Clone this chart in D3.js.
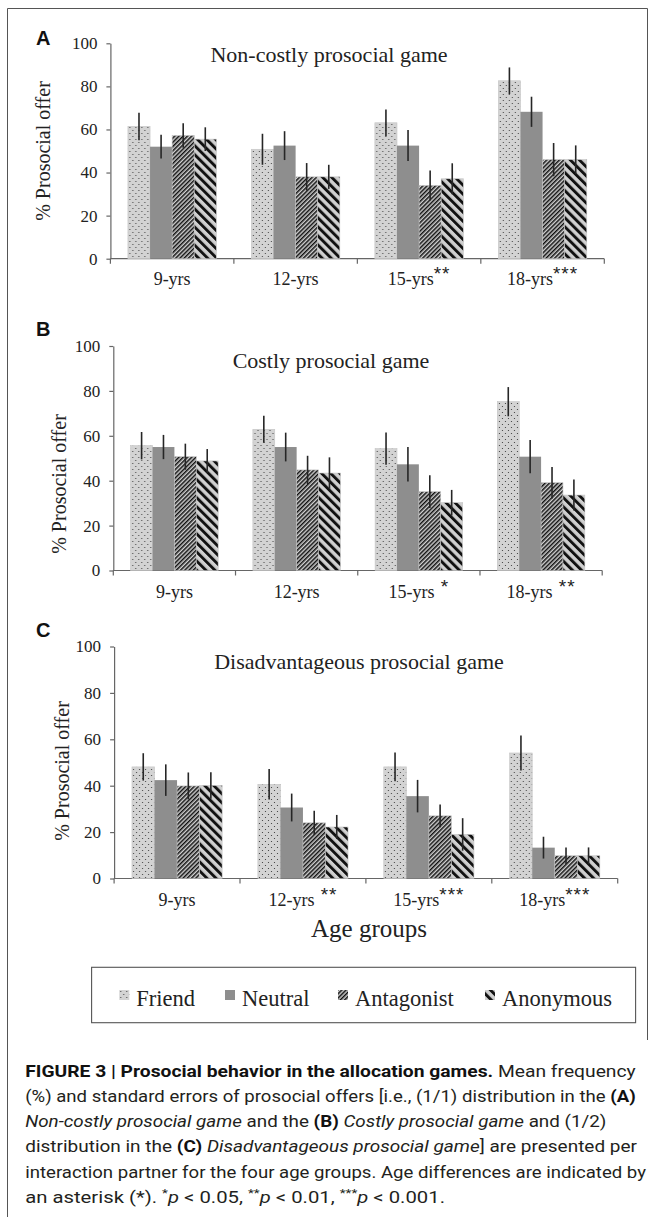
<!DOCTYPE html>
<html>
<head>
<meta charset="utf-8">
<script src="https://cdn.jsdelivr.net/npm/d3@7"></script>
<style>
  body { margin: 0; background: #fff; }
  svg { display: block; }
</style>
</head>
<body>
<script>
// data
const ages = ["9-yrs", "12-yrs", "15-yrs", "18-yrs"];
const partners = ["Friend", "Neutral", "Antagonist", "Anonymous"];
const yTicks = [0, 20, 40, 60, 80, 100];

// rows = age group, columns = partner
const nonCostlyMean = [[61.4, 52.0, 57.2, 55.5], [50.8, 52.5, 38.0, 38.0], [63.1, 52.5, 34.0, 37.1], [82.6, 68.2, 46.0, 46.0]];
const nonCostlySE   = [[6.4, 5.5, 5.7, 5.5], [7.2, 6.7, 6.4, 5.6], [6.2, 7.2, 7.0, 7.2], [6.2, 7.0, 7.7, 6.6]];
const costlyMean    = [[55.6, 55.0, 50.7, 48.8], [62.9, 55.0, 44.8, 43.4], [54.3, 47.3, 35.1, 30.2], [75.2, 50.7, 39.1, 33.6]];
const costlySE      = [[6.1, 5.4, 5.8, 5.3], [6.0, 6.4, 6.3, 7.0], [7.2, 7.7, 7.3, 5.7], [6.5, 7.4, 7.0, 6.9]];
const disadvMean    = [[48.1, 42.4, 39.9, 40.1], [40.6, 30.6, 24.0, 22.2], [48.1, 35.5, 27.0, 19.0], [54.1, 13.3, 9.8, 9.8]];
const disadvSE      = [[5.9, 6.8, 5.8, 5.7], [6.6, 6.0, 5.2, 5.2], [6.2, 7.0, 4.9, 7.0], [7.5, 4.7, 3.6, 3.6]];
const nonCostlyStars = ["", "", "**", "***"];
const costlyStars    = ["", "", " *", " **"];
const disadvStars    = ["", " **", "***", "***"];

const W = 657, H = 1217;
const SERIF = "'Liberation Serif', 'Times New Roman', serif";
const SANS = "'Liberation Sans', Arial, sans-serif";
const svg = d3.select("body").append("svg").attr("width", W).attr("height", H);

// fill patterns
const defs = svg.append("defs");
let pd = defs.append("pattern").attr("id", "dots").attr("patternUnits", "userSpaceOnUse")
  .attr("width", 6).attr("height", 6);
pd.append("rect").attr("width", 6).attr("height", 6).attr("fill", "#d3d3d3");
pd.append("circle").attr("cx", 1.5).attr("cy", 1.5).attr("r", 0.6).attr("fill", "#333");
pd.append("circle").attr("cx", 4.5).attr("cy", 4.5).attr("r", 0.6).attr("fill", "#333");

function stripes(id, period, lw, angle) {
  let p = defs.append("pattern").attr("id", id).attr("patternUnits", "userSpaceOnUse")
    .attr("width", period).attr("height", period).attr("patternTransform", "rotate(" + angle + ")");
  p.append("rect").attr("width", period).attr("height", period).attr("fill", "#d0d0d0");
  p.append("rect").attr("width", lw).attr("height", period).attr("fill", "#111");
}
stripes("thin", 3.0, 1.5, 45);
stripes("thick", 6.4, 2.9, -45);

const fills = ["url(#dots)", "#8e8e8e", "url(#thin)", "url(#thick)"];

// outer frame
svg.append("path").attr("d", "M7.5," + H + "V8.5H647.5V1040")
  .attr("fill", "none").attr("stroke", "#555").attr("stroke-width", 1);

const panels = [
  { letter: "A", title: "Non-costly prosocial game", mean: nonCostlyMean, se: nonCostlySE, stars: nonCostlyStars,
    x0: 110.4, x1: 604.3, yTop: 43.3, yBot: 258.7, tx: 329, ty: 61.7, lx: 50, ly: 151, cy: 285, py: 45 },
  { letter: "B", title: "Costly prosocial game", mean: costlyMean, se: costlySE, stars: costlyStars,
    x0: 113.3, x1: 602.2, yTop: 346, yBot: 570.5, tx: 331, ty: 368.3, lx: 66, ly: 484, cy: 598, py: 336 },
  { letter: "C", title: "Disadvantageous prosocial game", mean: disadvMean, se: disadvSE, stars: disadvStars,
    x0: 114.1, x1: 617.7, yTop: 646.5, yBot: 878.5, tx: 359, ty: 669.3, lx: 69, ly: 771, cy: 906, py: 637 }
];

panels.forEach(function(P) {
  const g = svg.append("g");
  const x = d3.scaleBand().domain(ages).range([P.x0, P.x1]);
  const bw = x.bandwidth();
  const xs = d3.scaleBand().domain(partners).range([bw * 0.142, bw * 0.858]);
  const y = d3.scaleLinear().domain([0, 100]).range([P.yBot, P.yTop]);

  // y axis
  const ya = g.append("g").attr("transform", "translate(" + P.x0 + ",0)")
    .call(d3.axisLeft(y).tickValues(yTicks).tickSize(4).tickSizeOuter(0).tickPadding(9));
  ya.selectAll("path, line").attr("stroke", "#666").attr("stroke-width", 1.2);
  ya.selectAll("text").attr("font-family", SERIF).attr("font-size", 17).attr("fill", "#222");

  // x axis line + boundary ticks
  g.append("line").attr("x1", P.x0).attr("x2", P.x1).attr("y1", y(0)).attr("y2", y(0))
    .attr("stroke", "#666").attr("stroke-width", 1.2);
  const bounds = ages.map(function(a) { return x(a); }).concat([x(ages[3]) + bw]);
  g.selectAll(".bt").data(bounds).enter().append("line")
    .attr("x1", function(d) { return d; }).attr("x2", function(d) { return d; })
    .attr("y1", y(0)).attr("y2", y(0) + 5).attr("stroke", "#666").attr("stroke-width", 1.2);

  // bars
  const grp = g.selectAll(".grp").data(ages).enter().append("g")
    .attr("transform", function(a) { return "translate(" + x(a) + ",0)"; });
  grp.each(function(a, i) {
    const rows = partners.map(function(p, j) { return { p: p, j: j, v: P.mean[i][j], e: P.se[i][j] }; });
    const s = d3.select(this);
    s.selectAll("rect").data(rows).enter().append("rect")
      .attr("x", function(d) { return xs(d.p); })
      .attr("width", xs.bandwidth())
      .attr("y", function(d) { return y(d.v); })
      .attr("height", function(d) { return y(0) - y(d.v); })
      .attr("fill", function(d) { return fills[d.j]; })
      .attr("stroke", function(d) { return d.j == 1 ? "none" : "#c4c4c4"; })
      .attr("stroke-width", 0.6);
    s.selectAll("line").data(rows).enter().append("line")
      .attr("x1", function(d) { return xs(d.p) + xs.bandwidth() / 2; })
      .attr("x2", function(d) { return xs(d.p) + xs.bandwidth() / 2; })
      .attr("y1", function(d) { return y(d.v + d.e); })
      .attr("y2", function(d) { return y(d.v - d.e); })
      .attr("stroke", "#262626").attr("stroke-width", 1.6);
  });

  // category labels with significance stars
  const cl = g.selectAll(".cat").data(ages).enter().append("text")
    .attr("font-family", SERIF).attr("fill", "#222")
    .attr("x", function(a) { return x(a) + bw / 2; }).attr("y", P.cy)
    .attr("text-anchor", "middle").attr("font-size", 18);
  cl.append("tspan").text(function(a) { return a; });
  cl.append("tspan").attr("dy", -5)
    .attr("font-family", SANS).attr("font-size", 19).attr("letter-spacing", 1)
    .text(function(a, i) { return P.stars[i].replace(/ /g, "\u00a0"); });

  // title
  g.append("text").attr("font-family", SERIF).attr("fill", "#222").attr("x", P.tx).attr("y", P.ty)
    .attr("text-anchor", "middle").attr("font-size", 22).text(P.title);

  // y label
  g.append("text").attr("font-family", SERIF).attr("fill", "#222")
    .attr("transform", "translate(" + P.lx + "," + P.ly + ") rotate(-90)")
    .attr("text-anchor", "middle").attr("font-size", 20).text("% Prosocial offer");

  // panel letter
  g.append("text").attr("x", 36).attr("y", P.py)
    .attr("font-family", SANS).attr("font-weight", "bold")
    .attr("font-size", 20).attr("fill", "#111").text(P.letter);
});

svg.append("text").attr("font-family", SERIF).attr("fill", "#222").attr("x", 369).attr("y", 937)
  .attr("text-anchor", "middle").attr("font-size", 25).text("Age groups");

// legend
svg.append("rect").attr("x", 91.6).attr("y", 967.3).attr("width", 544).attr("height", 55.4)
  .attr("fill", "none").attr("stroke", "#555").attr("stroke-width", 1.1);
const legX = [119.3, 225, 338, 485];
const leg = svg.selectAll(".leg").data(partners).enter().append("g")
  .attr("transform", function(d, i) { return "translate(" + legX[i] + ",0)"; });
leg.append("rect").attr("x", 0).attr("y", 990).attr("width", 10).attr("height", 10)
  .attr("fill", function(d, i) { return fills[i]; });
leg.append("text").attr("font-family", SERIF).attr("fill", "#222").attr("x", 17).attr("y", 1006)
  .attr("font-size", 22.5).text(function(d) { return d; });

// caption
const capLines = [
  [["b", "FIGURE 3 | Prosocial behavior in the allocation games."], ["n", " Mean frequency"]],
  [["n", "(%) and standard errors of prosocial offers [i.e., (1/1) distribution in the "], ["b", "(A)"]],
  [["i", "Non-costly prosocial game"], ["n", " and the "], ["b", "(B) "], ["i", "Costly prosocial game"], ["n", " and (1/2)"]],
  [["n", "distribution in the "], ["b", "(C) "], ["i", "Disadvantageous prosocial game"], ["n", "] are presented per"]],
  [["n", "interaction partner for the four age groups. Age differences are indicated by"]],
  [["n", "an asterisk (*). "], ["s", "*"], ["i", "p"], ["n", " < 0.05, "], ["s", "**"], ["i", "p"], ["n", " < 0.01, "], ["s", "***"], ["i", "p"], ["n", " < 0.001."]]
];
const capEnd = [635.7, 635.7, 606.4, 637, 646, 445];
capLines.forEach(function(line, k) {
  const t = svg.append("text").attr("x", 25.2).attr("y", 1076.7 + k * 25.2)
    .attr("font-family", "Roboto, 'Liberation Sans', sans-serif").attr("font-size", 16.5)
    .attr("fill", "#231f20")
    .attr("textLength", capEnd[k] - 25.2).attr("lengthAdjust", "spacingAndGlyphs");
  line.forEach(function(seg) {
    const sp = t.append("tspan").text(seg[1]);
    if (seg[0] == "b") sp.attr("font-weight", "bold").attr("fill", "#111");
    if (seg[0] == "i") sp.attr("font-style", "italic");
    if (seg[0] == "s") sp.attr("font-size", 11).attr("dy", -6);
    if (seg[0] == "i" && k == 5) sp.attr("dy", 6);
  });
});
</script>
</body>
</html>
